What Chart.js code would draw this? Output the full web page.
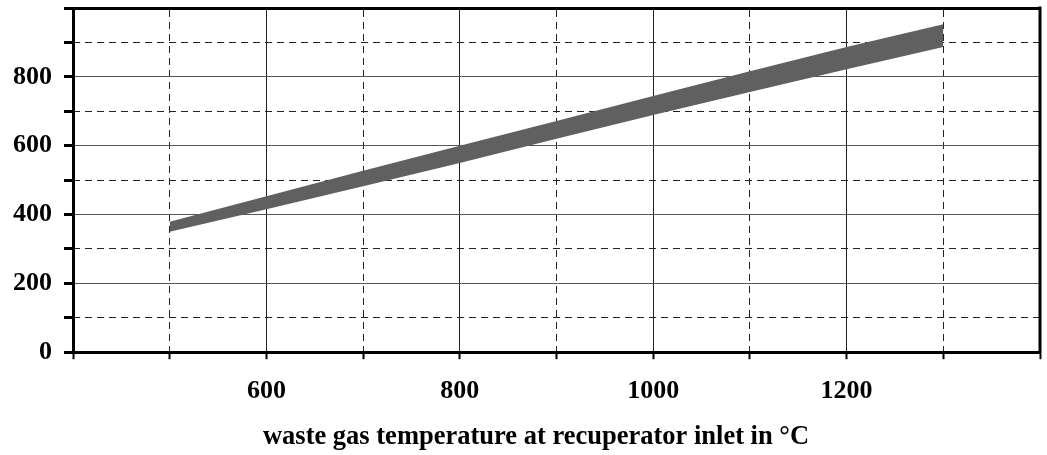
<!DOCTYPE html>
<html>
<head>
<meta charset="utf-8">
<script src="https://cdn.jsdelivr.net/npm/chart.js@4/dist/chart.umd.min.js"></script>
<style>
  html, body { margin: 0; padding: 0; background: #fff; }
</style>
</head>
<body>
<canvas id="band-chart" width="1047" height="455"></canvas>
<script>
// waste gas temperature (x) and the band limits (y)
const temps = [500, 600, 700, 800, 900, 1000, 1100, 1200, 1300];
const upper = [379, 453, 527, 600, 672, 744, 816, 887, 953];
const lower = [350, 415, 482, 550, 620, 689, 756, 822, 887];
const xLabels = [600, 800, 1000, 1200];
const yLabels = [0, 200, 400, 600, 800];

const font = { family: "'Liberation Serif', 'Times New Roman', serif", weight: 'bold', size: 26 };
const titleFont = { family: "'Liberation Serif', 'Times New Roman', serif", weight: 'bold', size: 26.5, lineHeight: 1.2 };
const dash = [7, 5];

const solidX = v => xLabels.includes(v);
const dashedX = v => v % 200 === 100;
const solidY = v => yLabels.includes(v) && v > 0;
const dashedY = v => v % 200 === 100;

// keep the plot area where the frame is, ignore label overhang
const noPad = s => { s.paddingLeft = 0; s.paddingRight = 0; s.paddingTop = 0; s.paddingBottom = 0; };

// right edge of the frame
const frame = {
  id: 'frame',
  afterDraw(chart) {
    const { ctx, chartArea: a } = chart;
    ctx.save();
    ctx.strokeStyle = '#000';
    ctx.lineWidth = 3;
    ctx.beginPath();
    ctx.moveTo(a.right, a.top - 1.5);
    ctx.lineTo(a.right, a.bottom + 1.5);
    ctx.stroke();
    ctx.restore();
  }
};

new Chart(document.getElementById("band-chart"), {
  type: 'line',
  data: {
    datasets: [
      {
        label: 'lower',
        data: temps.map((t, i) => ({ x: t, y: lower[i] })),
        borderWidth: 0,
        pointRadius: 0,
        fill: false
      },
      {
        label: 'upper',
        data: temps.map((t, i) => ({ x: t, y: upper[i] })),
        borderWidth: 0,
        pointRadius: 0,
        backgroundColor: '#606060',
        fill: '-1'
      }
    ]
  },
  plugins: [frame],
  options: {
    responsive: false,
    animation: false,
    // negative right padding moves the centre of the bottom title left
    layout: { padding: { left: 0, top: 8, right: -25, bottom: 0 } },
    plugins: {
      legend: { display: false },
      tooltip: { enabled: false },
      title: {
        display: true, position: 'bottom',
        text: 'waste gas temperature at recuperator inlet in °C',
        color: '#000', font: titleFont, padding: { top: 0, bottom: 2 }
      }
    },
    scales: {
      x: {
        type: 'linear', position: 'bottom', min: 400, max: 1400, z: 1,
        ticks: {
          stepSize: 100, autoSkip: false, maxRotation: 0, padding: 16,
          color: '#000', font: font,
          callback: v => xLabels.includes(v) ? v : ''
        },
        grid: {
          color: c => solidX(c.tick.value) ? '#222' : 'transparent',
          lineWidth: 1, drawTicks: true, tickLength: 7, tickWidth: 2, tickColor: '#000'
        },
        border: { color: '#000', width: 3 },
        afterFit: s => { noPad(s); s.height = 69; }
      },
      x2: {
        type: 'linear', position: 'top', min: 400, max: 1400, z: 1,
        ticks: { display: false, stepSize: 100 },
        grid: {
          color: c => dashedX(c.tick.value) ? '#222' : 'transparent',
          lineWidth: 1, drawTicks: false
        },
        border: { color: '#000', width: 3, dash: dash },
        afterFit: s => { noPad(s); s.height = 0; }
      },
      y: {
        type: 'linear', position: 'left', min: 0, max: 1000, z: 1,
        ticks: {
          stepSize: 100, autoSkip: false, padding: 12,
          color: '#000', font: font,
          callback: v => yLabels.includes(v) ? v : ''
        },
        grid: {
          color: c => solidY(c.tick.value) ? '#555' : 'transparent',
          lineWidth: 1, drawTicks: true, tickLength: 9, tickWidth: 3, tickColor: '#000'
        },
        border: { color: '#000', width: 3 },
        afterFit: s => { noPad(s); s.width = 73; }
      },
      y2: {
        type: 'linear', position: 'right', min: 0, max: 1000, z: 1,
        ticks: { display: false, stepSize: 100 },
        grid: {
          color: c => dashedY(c.tick.value) ? '#222' : 'transparent',
          lineWidth: 1, drawTicks: false
        },
        border: { display: false, dash: dash },
        afterFit: s => { noPad(s); s.width = 32; }
      }
    }
  }
});
</script>
</body>
</html>
